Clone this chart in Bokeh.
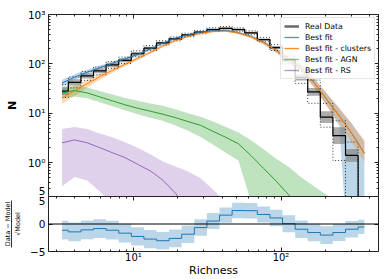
import numpy as np
from bokeh.plotting import figure
from bokeh.layouts import column
from bokeh.models import (LogAxis, LinearAxis, FixedTicker, CustomJSTickFormatter, Span,
                          Legend, LegendItem, Range1d)
from bokeh.embed import file_html
from bokeh.resources import INLINE

# ---------------- data ----------------
richness = [3.28, 3.99, 4.86, 5.91, 7.20, 8.76, 10.67, 12.99, 15.81, 19.24, 23.43, 28.52, 34.72,
            42.26, 51.44, 62.62, 76.2, 92.8, 113.0, 137.5, 167.4, 203.8, 248.0, 301.9, 367.5]

data_counts = [28, 42, 57, 72, 95, 118, 160, 208, 265, 320, 385, 440, 495, 525, 495, 425, 310, 214,
               120, 53, 27, 8.3, 3.5, 1.4, 0]
data_lo1 = [23.3, 36.2, 50.2, 64.2, 85.7, 107.7, 147.6, 194, 250, 304, 368, 420, 473, 501, 473, 404,
            293, 200, 109.5, 46.2, 22.5, 6.3, 2.37, 1.04, 0]
data_hi1 = [33.7, 48.8, 64.7, 80.8, 105.4, 129.3, 173.4, 223, 281, 337, 403, 461, 518, 550, 518, 447,
            328, 229, 131.5, 60.8, 32.5, 10.9, 5.2, 1.89, 0]
data_lo2 = [20.8, 32.6, 46.3, 59.9, 80.9, 101.6, 139.4, 185.4, 239, 292, 355, 406, 457, 484, 457, 388,
            280, 186, 100, 40.2, 15.9, 5.2, 1.1, 0, 0]
data_hi2 = [37.8, 54.1, 70.1, 86.5, 111.6, 137, 183.7, 233.4, 294, 351, 417, 477, 537, 569, 537, 466,
            344, 246, 144, 69.9, 46.9, 15.8, 7.0, 2.6, 0]

fit_total = [40.7, 53.7, 67.6, 83.2, 102.3, 125.9, 154.9, 199.5, 263, 331, 389, 442, 468, 473, 427,
             359, 272, 188, 122, 81.3, 41.7, 19.1, 8.9, 3.9, 1.55]
fit_total_lo = [34.6, 46.8, 60.3, 75.0, 93.3, 116.1, 144.5, 188.4, 251, 316, 372, 422, 447, 452, 408,
                339, 254, 171, 108.7, 69.2, 33.9, 14.5, 5.6, 0, 0]
fit_total_hi = [47.8, 61.6, 75.8, 92.3, 112.1, 136.5, 166.1, 211.3, 275, 347, 407, 463, 490, 495, 447,
                380, 292, 206, 136.9, 95.5, 51.3, 25.2, 12.6, 6.2, 2.6]

fit_clusters = [20.4, 28.2, 39.8, 55.0, 74.1, 97.7, 128.8, 169.8, 229, 295, 359, 417, 452, 462, 422,
                355, 269, 186, 120, 80, 41.2, 18.8, 8.8, 3.85, 1.53]
fit_clusters_lo = [15.5, 22.4, 33.1, 47.4, 66.0, 89.1, 118.8, 158.4, 216, 282, 343, 398, 432, 441, 398,
                   331, 245, 166, 104.5, 66.6, 32.7, 13.9, 6.1, 2.48, 1.04]
fit_clusters_hi = [26.9, 35.5, 47.8, 63.9, 83.1, 107.1, 139.6, 182.0, 243, 309, 376, 437, 473, 484, 447,
                   381, 295, 209, 137.8, 96.2, 51.9, 25.4, 12.7, 5.97, 2.9]

fit_agn = [25.7, 28.8, 25.7, 21.4, 17.8, 14.8, 12.6, 11.0, 9.55, 8.13, 6.76, 5.69, 4.27, 3.24, 2.40,
           1.38, 0.76, 0.42, 0.22, 0.10, 0.05, 0.025, 0.0126, 0.0063, 0.0032]
fit_agn_lo = [20.0, 21.9, 20.0, 16.6, 13.8, 11.5, 9.55, 8.13, 7.0, 5.6, 4.4, 3.3, 2.3, 1.58, 1.10,
              0.16, 0.03, 0.01, 0.003, 0.001, 0.001, 0.001, 0.001, 0.001, 0.001]
fit_agn_hi = [34.7, 36.3, 33.1, 28.2, 24.0, 20.4, 17.8, 15.8, 14.1, 12.0, 10.0, 8.5, 6.8, 5.25, 4.07,
              2.82, 1.86, 1.20, 0.81, 0.50, 0.33, 0.22, 0.14, 0.089, 0.056]

fit_rs = [2.51, 2.88, 2.51, 2.0, 1.58, 1.26, 0.92, 0.68, 0.44, 0.24, 0.11, 0.05, 0.02, 0.008, 0.003,
          0.001, 0.001, 0.001, 0.001, 0.001, 0.001, 0.001, 0.001, 0.001, 0.001]
fit_rs_lo = [0.33, 0.51, 0.43, 0.26, 0.14, 0.07, 0.03, 0.01, 0.003, 0.001, 0.001, 0.001, 0.001,
             0.001, 0.001, 0.001, 0.001, 0.001, 0.001, 0.001, 0.001, 0.001, 0.001, 0.001, 0.001]
fit_rs_hi = [4.79, 5.25, 4.79, 3.89, 3.24, 2.57, 2.0, 1.48, 1.05, 0.83, 0.66, 0.48, 0.28, 0.16, 0.08,
             0.04, 0.02, 0.01, 0.005, 0.003, 0.002, 0.001, 0.001, 0.001, 0.001]

residual = [-1.13, -1.43, -1.07, -0.83, -1.13, -1.67, -2.26, -2.74, -3.04, -2.62, -1.85, -0.65, 0.54,
            1.61, 2.45, 2.42, 1.73, 1.1, 0.06, -0.95, -1.55, -2.02, -1.55, -0.95, -0.54]
residual_err = [1.7, 1.7, 1.7, 1.7, 1.7, 1.7, 1.65, 1.65, 1.6, 1.6, 1.6, 1.5, 1.45, 1.4, 1.4, 1.4,
                1.45, 1.5, 1.55, 1.6, 1.6, 1.6, 1.55, 1.5, 1.3]

legend_labels = ["Real Data", "Best fit", "Best fit - clusters", "Best fit - AGN", "Best fit - RS"]

# ---------------- helpers ----------------
FLOOR = 1e-3  # zero counts shown at the bottom of the log axis


def pos(a):
    return [v if v > 0 else FLOOR for v in a]


FONT = "DejaVu Sans"
C_BLUE, C_ORANGE, C_GREEN, C_PURPLE = "#1f77b4", "#ff7f0e", "#2ca02c", "#9467bd"
AX = "#222222"
Y_BOTTOM = 0.205

x_major = [1, 10, 100, 1000]
x_minor = [m * 10 ** k for k in range(0, 3) for m in range(2, 10)]
y_major = [Y_BOTTOM, 1, 10, 100, 1000]
y_minor = [m * 10 ** k for k in range(-1, 3) for m in range(2, 10)]

sup_fmt_code = """
const s = {"-":"\u207b","0":"\u2070","1":"\u00b9","2":"\u00b2","3":"\u00b3","4":"\u2074",
           "5":"\u2075","6":"\u2076","7":"\u2077","8":"\u2078","9":"\u2079"};
if (tick < 0.5) { return "5"; }   // top label of the residual panel, shared edge
const e = Math.round(Math.log10(tick));
return "10" + String(e).split("").map(c => s[c]).join("");
"""
minus_fmt_code = 'return tick < 0 ? "\u2212" + Math.abs(tick) : String(tick);'


def style_axis(ax, labels=True, line=True, size="10.5px", ticks=True):
    ax.major_tick_in = 4 if ticks else 0
    ax.major_tick_out = 0
    ax.minor_tick_in = 2 if ticks else 0
    ax.minor_tick_out = 0
    ax.axis_line_color = AX if line else None
    ax.axis_line_width = 1
    ax.major_tick_line_color = AX if ticks else None
    ax.minor_tick_line_color = AX if ticks else None
    ax.major_label_text_font = FONT
    ax.major_label_text_color = "black"
    ax.major_label_text_font_size = size
    ax.major_label_standoff = 3
    if not labels:
        ax.major_label_text_font_size = "1px"
        ax.major_label_text_alpha = 0
        ax.major_label_standoff = 0


LEFT, RIGHT = 44, 12
x_range = Range1d(2.655, 458)

# ---------------- main panel ----------------
main = figure(width=390, height=196, x_axis_type="log", y_axis_type="log",
              x_range=x_range, y_range=Range1d(Y_BOTTOM, 1000),
              output_backend="svg", toolbar_location=None,
              min_border_left=LEFT, min_border_right=RIGHT, min_border_top=14, min_border_bottom=0)
main.grid.visible = False
main.outline_line_color = None
main.background_fill_color = "white"
main.border_fill_color = "white"
main.xaxis.visible = False

ya = main.yaxis[0]
ya.ticker = FixedTicker(ticks=y_major, minor_ticks=y_minor)
ya.formatter = CustomJSTickFormatter(code=sup_fmt_code)
style_axis(ya)
ya.axis_label = "N"
ya.axis_label_text_font = FONT
ya.axis_label_text_font_size = "11px"
ya.axis_label_text_font_style = "bold"
ya.axis_label_text_color = "black"
ya.axis_label_standoff = 6

top_ax = LogAxis(ticker=FixedTicker(ticks=x_major, minor_ticks=x_minor))
style_axis(top_ax, labels=False)
main.add_layout(top_ax, "above")
right_ax = LogAxis(ticker=FixedTicker(ticks=y_major, minor_ticks=y_minor))
style_axis(right_ax, labels=False)
main.add_layout(right_ax, "right")

# model bands
main.varea(x=richness, y1=pos(fit_total_lo), y2=pos(fit_total_hi), fill_color=C_BLUE, fill_alpha=0.3)
main.varea(x=richness, y1=pos(fit_clusters_lo), y2=pos(fit_clusters_hi), fill_color=C_ORANGE, fill_alpha=0.3)
main.varea(x=richness, y1=pos(fit_agn_lo), y2=pos(fit_agn_hi), fill_color=C_GREEN, fill_alpha=0.3)
main.varea(x=richness, y1=pos(fit_rs_lo), y2=pos(fit_rs_hi), fill_color=C_PURPLE, fill_alpha=0.3)

# real data
main.varea_step(x=richness, y1=pos(data_lo1), y2=pos(data_hi1), step_mode="center",
                fill_color="#808080", fill_alpha=0.65)
main.step(x=richness, y=pos(data_hi2), mode="center", line_color="black", line_width=0.8, line_dash="1 2")
main.step(x=richness, y=pos(data_lo2), mode="center", line_color="black", line_width=0.8, line_dash="1 2")
main.step(x=richness, y=pos(data_counts), mode="center", line_color="black", line_width=1.2)

# model lines
main.line(x=richness, y=pos(fit_total), line_color=C_BLUE, line_width=1)
main.line(x=richness, y=pos(fit_clusters), line_color=C_ORANGE, line_width=1)
main.line(x=richness, y=pos(fit_agn), line_color=C_GREEN, line_width=1)
main.line(x=richness, y=pos(fit_rs), line_color=C_PURPLE, line_width=1)

# legend glyph stand-ins (their single point lies outside the visible ranges)
l_data = main.line(x=[1e-5], y=[1e-5], line_color="#6a6a6a", line_width=2.5)
l_tot = main.line(x=[1e-5], y=[1e-5], line_color=C_BLUE, line_width=1.3, line_alpha=0.8)
l_clu = main.line(x=[1e-5], y=[1e-5], line_color=C_ORANGE, line_width=1.3, line_alpha=0.9)
l_agn = main.line(x=[1e-5], y=[1e-5], line_color=C_GREEN, line_width=1.3, line_alpha=0.55)
l_rs = main.line(x=[1e-5], y=[1e-5], line_color=C_PURPLE, line_width=1.3, line_alpha=0.7)
items = [LegendItem(label=lab, renderers=[r]) for lab, r in
         zip(legend_labels, [l_data, l_tot, l_clu, l_agn, l_rs])]
legend = Legend(items=items, location="top_right", margin=3, padding=3, spacing=1,
                label_text_font=FONT, label_text_font_size="7.8px", label_text_color="black",
                glyph_width=15, glyph_height=10, label_height=10, label_standoff=6,
                border_line_color="#cccccc", border_line_width=1,
                background_fill_color="white", background_fill_alpha=0.8)
main.add_layout(legend)

# ---------------- residual panel ----------------
res = figure(width=390, height=83, x_axis_type="log", x_range=x_range, y_range=Range1d(-5, 5),
             output_backend="svg", toolbar_location=None,
             min_border_left=LEFT, min_border_right=RIGHT, min_border_top=0, min_border_bottom=0)
res.grid.visible = False
res.outline_line_color = None
res.background_fill_color = "white"
res.border_fill_color = "white"

rx = res.xaxis[0]
rx.ticker = FixedTicker(ticks=x_major, minor_ticks=x_minor)
rx.formatter = CustomJSTickFormatter(code=sup_fmt_code)
style_axis(rx, size="10px")
rx.major_label_standoff = 0
rx.axis_label = "Richness"
rx.axis_label_text_font = FONT
rx.axis_label_text_font_size = "11px"
rx.axis_label_text_font_style = "normal"
rx.axis_label_text_color = "black"
rx.axis_label_standoff = -2

# inner left axis: ticks, labels and the denominator of the y label
ry = res.yaxis[0]
ry.ticker = FixedTicker(ticks=[-5, 0, 5], minor_ticks=[])
ry.formatter = CustomJSTickFormatter(code=minus_fmt_code)
style_axis(ry)
ry.axis_label = "\u221aModel"
ry.axis_label_text_font = FONT
ry.axis_label_text_font_size = "6.5px"
ry.axis_label_text_font_style = "normal"
ry.axis_label_text_color = "black"
ry.axis_label_standoff = 5

# middle left axis: only its line, used as the fraction bar
bar_ax = LinearAxis(ticker=FixedTicker(ticks=[0], minor_ticks=[]), bounds=(-4.2, 4.2))
style_axis(bar_ax, labels=False, ticks=False)
bar_ax.axis_line_color = "black"
bar_ax.axis_line_width = 0.8
res.add_layout(bar_ax, "left")

# outer left axis: numerator of the y label
num_ax = LinearAxis(ticker=FixedTicker(ticks=[0], minor_ticks=[]))
style_axis(num_ax, labels=False, line=False, ticks=False)
num_ax.axis_label = "Data \u2212 Model"
num_ax.axis_label_text_font = FONT
num_ax.axis_label_text_font_size = "6.5px"
num_ax.axis_label_text_font_style = "normal"
num_ax.axis_label_text_color = "black"
num_ax.axis_label_standoff = 0
res.add_layout(num_ax, "left")

rtop = LogAxis(ticker=FixedTicker(ticks=x_major, minor_ticks=x_minor))
style_axis(rtop, labels=False)
res.add_layout(rtop, "above")
rright = LinearAxis(ticker=FixedTicker(ticks=[-5, 0, 5], minor_ticks=[]))
style_axis(rright, labels=False)
res.add_layout(rright, "right")

res_lo = [r - e for r, e in zip(residual, residual_err)]
res_hi = [r + e for r, e in zip(residual, residual_err)]
res.varea_step(x=richness, y1=res_lo, y2=res_hi, step_mode="center", fill_color=C_BLUE, fill_alpha=0.3)
res.add_layout(Span(location=0, dimension="width", line_color="black", line_width=1))
res.step(x=richness, y=residual, mode="center", line_color=C_BLUE, line_width=1)

layout = column(main, res, spacing=0)
open("out.html", "w").write(file_html(layout, INLINE))
